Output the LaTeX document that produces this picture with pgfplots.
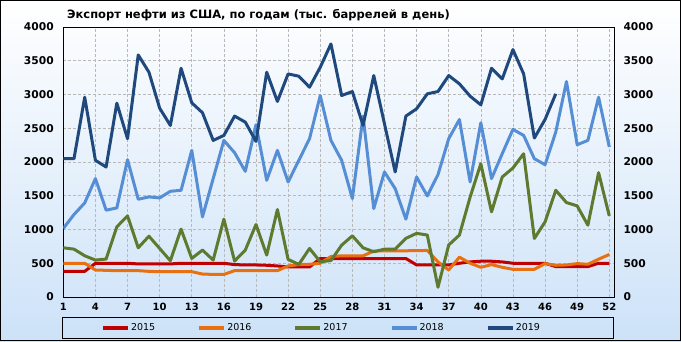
\documentclass[border=0pt]{standalone}
\usepackage{pgfplots}
\usepackage{pgfplotstable}
\pgfplotsset{compat=1.18}
\usepackage{fontspec}
\setmainfont{DejaVu Sans}
\definecolor{c15}{RGB}{192,0,0}
\definecolor{c16}{RGB}{232,112,16}
\definecolor{c17}{RGB}{94,122,46}
\definecolor{c18}{RGB}{85,142,213}
\definecolor{c19}{RGB}{31,73,125}
\definecolor{bgblue}{RGB}{205,226,248}

\pgfplotstableread{
w y15 y16 y17 y18 y19
1 380 500 729 1015 2050
2 380 500 709 1222 2050
3 380 500 611 1394 2960
4 500 400 547 1754 2025
5 500 395 562 1286 1926
6 500 390 1039 1320 2872
7 500 390 1202 2034 2345
8 490 390 729 1448 3586
9 490 380 901 1483 3330
10 490 375 719 1468 2798
11 490 375 537 1566 2542
12 500 375 1005 1581 3389
13 500 375 571 2172 2877
14 500 340 695 1187 2730
15 500 335 547 1754 2320
16 500 335 1153 2320 2394
17 480 390 532 2138 2680
18 475 390 695 1862 2591
19 475 390 1074 2552 2305
20 470 390 621 1729 3330
21 460 390 1296 2172 2897
22 445 460 557 1704 3305
23 445 480 483 2025 3271
24 445 485 719 2345 3108
25 570 500 522 2985 3404
26 570 600 540 2320 3749
27 570 610 768 2025 2985
28 570 610 906 1458 3044
29 570 610 729 2680 2542
30 570 680 670 1310 3281
31 570 685 709 1852 2566
32 570 685 709 1606 1852
33 570 685 869 1153 2680
34 475 686 943 1778 2788
35 475 690 918 1498 3010
36 475 520 145 1813 3044
37 475 400 770 2345 3281
38 500 590 918 2630 3158
39 520 500 1480 1704 2975
40 530 440 1975 2581 2847
41 530 480 1261 1754 3389
42 520 440 1778 2123 3231
43 500 410 1911 2483 3665
44 500 410 2123 2394 3305
45 500 410 867 2049 2355
46 500 495 1113 1960 2630
47 450 470 1581 2443 3010
48 450 475 1399 3192 nan
49 450 495 1350 2256 nan
50 450 485 1064 2320 nan
51 500 560 1842 2960 nan
52 500 630 1202 2222 nan
}\datatable

\begin{document}
\begin{tikzpicture}
\shade[top color=white, middle color=white, bottom color=bgblue] (0pt,0pt) rectangle (681pt,341pt);
\draw[black, line width=1pt] (0.5pt,0.5pt) rectangle (680.5pt,340.5pt);
\node[anchor=west, inner sep=0pt, font=\bfseries\fontsize{11.5}{13}\selectfont] at (67pt,326pt) {Экспорт нефти из США, по годам (тыс. баррелей в день)};
\begin{axis}[
  at={(63.3pt,44pt)}, anchor=south west,
  scale only axis, width=550.7pt, height=270pt,
  xmin=1, xmax=52.44, ymin=0, ymax=4000,
  xtick={1,4,...,52}, ytick={0,500,...,4000},
  xtick pos=bottom, ytick pos=left,
  grid=major,
  major grid style={gray!55, dash pattern=on 3pt off 2pt, line width=0.6pt},
  axis line style={black, line width=0.8pt},
  major tick length=0pt,
  xticklabel style={font=\bfseries\fontsize{10}{12}\selectfont, yshift=-3pt},
  yticklabel style={font=\bfseries\fontsize{10.7}{12}\selectfont, xshift=-6pt},
  /pgf/number format/assume math mode=true,
  /pgf/number format/1000 sep={},
  legend columns=5,
  legend style={at={(0.468,-0.113)}, anchor=center, draw=none, fill=none,
    font=\fontsize{9.5}{11}\selectfont,
    /tikz/every even column/.append style={column sep=41pt},
    nodes={inner sep=1pt}},
  legend image code/.code={\draw[#1, line width=4pt] (0pt,0pt) -- (25pt,0pt);},
  every axis plot/.append style={line width=3pt, line join=round},
]
\addplot[c15] table[x=w, y=y15] {\datatable};
\addlegendentry{2015}
\addplot[c16] table[x=w, y=y16] {\datatable};
\addlegendentry{2016}
\addplot[c17] table[x=w, y=y17] {\datatable};
\addlegendentry{2017}
\addplot[c18] table[x=w, y=y18] {\datatable};
\addlegendentry{2018}
\addplot[c19] table[x=w, y=y19] {\datatable};
\addlegendentry{2019}
\end{axis}
\begin{axis}[
  at={(63.3pt,44pt)}, anchor=south west,
  scale only axis, width=550.7pt, height=270pt,
  xmin=1, xmax=52.44, ymin=0, ymax=4000,
  ytick={0,500,...,4000},
  axis x line=none, axis y line*=right,
  axis line style={black, line width=0.8pt},
  major tick length=0pt,
  yticklabel style={font=\bfseries\fontsize{10.7}{12}\selectfont, xshift=6pt},
  /pgf/number format/assume math mode=true,
  /pgf/number format/1000 sep={},
]
\addplot[draw=none] coordinates {(1,0)};
\end{axis}
\draw[black, line width=1pt] (62pt,3pt) rectangle (613pt,24pt);
\end{tikzpicture}
\end{document}
